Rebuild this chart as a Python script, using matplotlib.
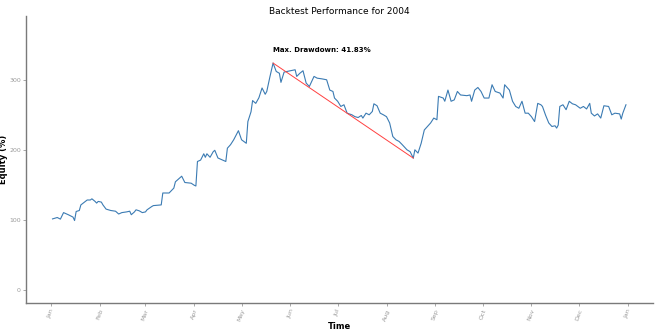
import matplotlib
matplotlib.use('Agg')
import matplotlib.pyplot as plt
import numpy as np
import pandas as pd

# days since 2004-01-01 and equity (%)
days = [1, 4, 6, 8, 11, 14, 15, 16, 18, 19, 22, 23, 25, 26, 28, 29, 30, 32, 33, 35,
        38, 41, 43, 45, 48, 50, 51, 53, 54, 56, 58, 60, 61, 64, 65, 70, 71, 75, 78, 79,
        83, 85, 89, 91, 92, 93, 95, 97, 98, 99, 101, 103, 104, 106, 109, 111, 112, 114, 116, 119,
        121, 124, 125, 127, 128, 130, 132, 134, 136, 137, 139, 141, 143, 145, 146, 148, 150, 152, 155, 156,
        158, 160, 162, 164, 167, 169, 172, 175, 177, 179, 180, 182, 184, 186, 188, 191, 193, 195, 197, 198,
        200, 202, 204, 205, 207, 209, 211, 213, 215, 217, 219, 221, 223, 226, 228, 230, 231, 233, 235, 237,
        239, 241, 243, 245, 246, 249, 250, 252, 254, 256, 258, 260, 264, 266, 267, 269, 271, 273, 275, 278,
        280, 282, 285, 287, 288, 291, 293, 295, 297, 299, 301, 303, 305, 307, 309, 311, 312, 314, 316, 318,
        320, 321, 322, 323, 325, 327, 329, 331, 333, 336, 338, 340, 342, 343, 345, 347, 349, 351, 354, 356,
        358, 361, 362, 363, 365]
equity = [102, 104, 101.7, 111, 108, 104.6, 99.7, 112.6, 114, 122, 127.4, 129, 129, 130.7, 127, 124.6, 127, 126, 122, 116,
          114, 113, 109, 111, 112, 113, 108, 112, 115, 113.6, 111, 112, 115, 119.7, 121, 122, 139, 139, 146, 155,
          163, 154, 153, 150, 149, 184, 186, 195, 190, 195, 190, 198, 200, 189, 186, 184, 203, 208, 215, 228,
          215, 210, 241, 255, 271, 267, 275, 289, 280, 284, 305, 324.6, 312.6, 310, 297, 311.7, 312.6, 313.6, 315, 305.5,
          310, 313.6, 296, 291, 305.5, 303, 302, 300.7, 286, 284, 274.6, 270, 262.6, 265, 253, 250.7, 248, 246.8, 249.7, 246,
          253, 250.7, 255.4, 266.4, 263.6, 253, 250.7, 248, 239, 219.7, 215, 212.6, 208, 200.7, 198, 188.82, 200.7, 196, 210, 229,
          234, 239, 246, 243.6, 277, 274.6, 270, 286, 270, 272, 284, 279, 278, 279, 270, 286, 289.7, 284, 274.6, 274.6,
          293.6, 284, 281.7, 274.6, 293.6, 286, 270, 262.6, 260, 270, 253, 253, 248, 241, 267, 265, 262.6, 250, 239, 234,
          235, 231.7, 236, 262.6, 265, 258, 270, 266.4, 265, 260, 262.6, 259, 267, 253, 249, 252, 246, 263.6, 262.6, 250.7,
          253, 252, 244.6, 253, 265]
month_labels = ['Jan', 'Feb', 'Mar', 'Apr', 'May', 'Jun', 'Jul', 'Aug', 'Sep', 'Oct', 'Nov', 'Dec', 'Jan']

start = pd.Timestamp('2004-01-01')
dates = start + pd.to_timedelta(days, unit='D')
eq = np.array(equity)

# max drawdown
running_max = np.maximum.accumulate(eq)
dd = (running_max - eq) / running_max
i_trough = int(np.argmax(dd))
i_peak = int(np.argmax(eq[:i_trough + 1]))
max_dd = dd[i_trough] * 100

fig = plt.figure(figsize=(6.6, 3.3), dpi=100)
ax = fig.add_axes([0.039, 0.082, 0.95, 0.87])

ax.plot(dates, eq, color='#3b7bb3', lw=0.8)
ax.plot([dates[i_peak], dates[i_trough]], [eq[i_peak], eq[i_trough]], color='#ff4040', lw=0.7)
ax.text(dates[i_peak], 343, 'Max. Drawdown: %.2f%%' % max_dd, fontsize=5, fontweight='bold',
        ha='left', va='center')

ax.set_xlim(start - pd.Timedelta(days=16), pd.Timestamp('2005-01-01') + pd.Timedelta(days=16))
ax.set_ylim(-18, 392)
ticks = pd.date_range('2004-01-01', '2005-01-01', freq='MS')
ax.set_xticks(ticks)
ax.set_xticklabels(month_labels, rotation=70, ha='center', va='top', fontsize=4.5, color='#9a9a9a')
ax.set_yticks([0, 100, 200, 300])
ax.tick_params(length=2, width=0.6, color='#9a9a9a', pad=2)
ax.tick_params(axis='y', labelsize=4.5, labelcolor='#9a9a9a', pad=1.5)

for s in ['top', 'right']:
    ax.spines[s].set_visible(False)
for s in ['left', 'bottom']:
    ax.spines[s].set_color('#7a7a7a')
    ax.spines[s].set_linewidth(1.0)

ax.set_title('Backtest Performance for 2004', fontsize=6.5, pad=1)
ax.set_xlabel('Time', fontsize=6, fontweight='bold')
ax.set_ylabel('Equity (%)', fontsize=6, fontweight='bold')
ax.xaxis.set_label_coords(0.5, -0.066)
ax.yaxis.set_label_coords(-0.028, 0.5)

fig.savefig('out.png', dpi=100)
